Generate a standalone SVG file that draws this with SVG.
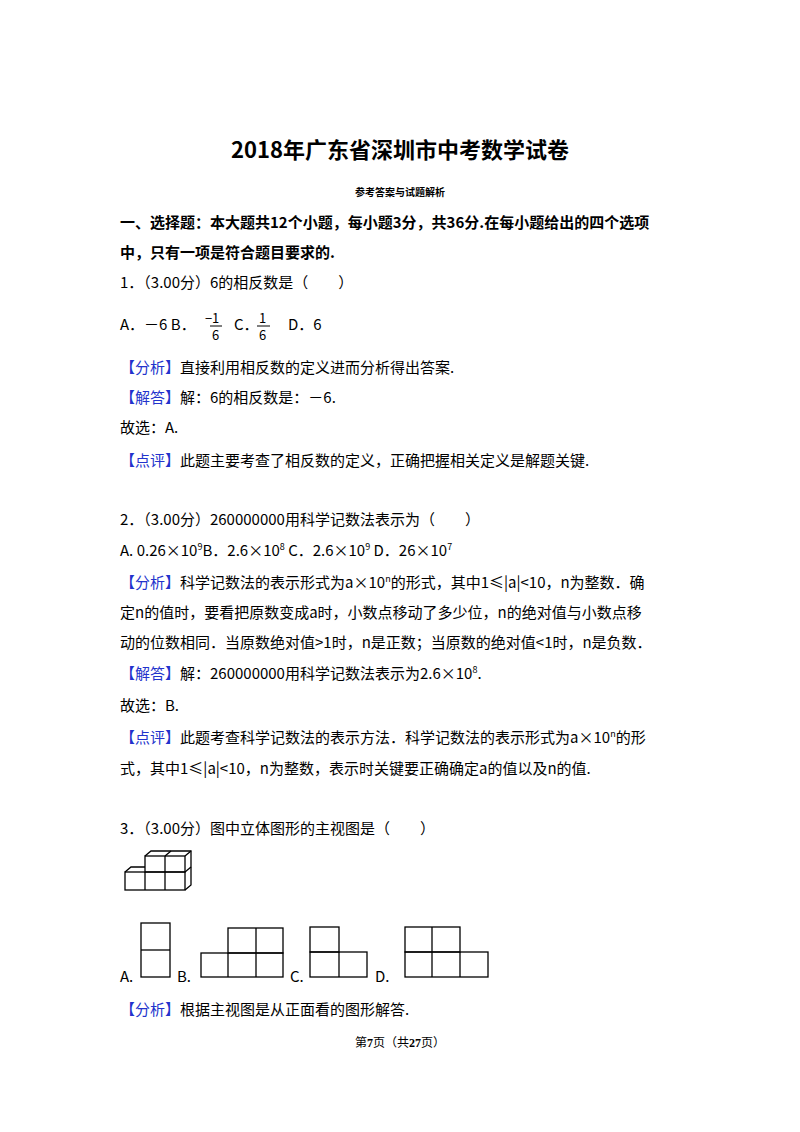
<svg xmlns="http://www.w3.org/2000/svg" width="800" height="1132" viewBox="0 0 800 1132">
<style>
text{font-family:"Noto Sans CJK SC","Liberation Sans",sans-serif;font-size:15px;fill:#000}
.b{font-weight:bold}
.k{fill:#2233cc}
.f{fill:none;stroke:#000;stroke-width:1.3}
sup{font-size:9px}
</style>
<rect width="800" height="1132" fill="#fff"/>
<text x="400" y="158" text-anchor="middle" class="b" style="font-size:22px">2018年广东省深圳市中考数学试卷</text>
<text x="400" y="196" text-anchor="middle" class="b" style="font-size:10px">参考答案与试题解析</text>
<text x="120" y="228" class="b">一、选择题：本大题共12个小题，每小题3分，共36分.在每小题给出的四个选项</text>
<text x="120" y="258" class="b">中，只有一项是符合题目要求的.</text>
<text x="120" y="288">1．（3.00分）6的相反数是（　　）</text>
<text x="120" y="330">A．－6 B．</text>
<text x="205" y="323" style="font-size:13px">−</text>
<text x="212" y="323" style="font-size:13px">1</text>
<line x1="210" y1="326" x2="222" y2="326" stroke="#000"/>
<text x="212" y="340" style="font-size:13px">6</text>
<text x="234" y="330">C．</text>
<text x="259" y="323" style="font-size:13px">1</text>
<line x1="257" y1="326" x2="270" y2="326" stroke="#000"/>
<text x="259" y="340" style="font-size:13px">6</text>
<text x="288" y="330">D．6</text>
<text x="120" y="373"><tspan class="k">【分析】</tspan>直接利用相反数的定义进而分析得出答案.</text>
<text x="120" y="403"><tspan class="k">【解答】</tspan>解：6的相反数是：－6.</text>
<text x="120" y="433">故选：A.</text>
<text x="120" y="466"><tspan class="k">【点评】</tspan>此题主要考查了相反数的定义，正确把握相关定义是解题关键.</text>
<text x="120" y="525">2．（3.00分）260000000用科学记数法表示为（　　）</text>
<text x="120" y="556">A. 0.26×10<tspan dy="-6" style="font-size:9px">9</tspan><tspan dy="6">B．2.6×10</tspan><tspan dy="-6" style="font-size:9px">8</tspan><tspan dy="6"> C．2.6×10</tspan><tspan dy="-6" style="font-size:9px">9</tspan><tspan dy="6"> D．26×10</tspan><tspan dy="-6" style="font-size:9px">7</tspan></text>
<text x="120" y="588"><tspan class="k">【分析】</tspan>科学记数法的表示形式为a×10<tspan dy="-6" style="font-size:9px">n</tspan><tspan dy="6">的形式，其中1≤|a|&lt;10，n为整数．确</tspan></text>
<text x="120" y="618">定n的值时，要看把原数变成a时，小数点移动了多少位，n的绝对值与小数点移</text>
<text x="120" y="648">动的位数相同．当原数绝对值&gt;1时，n是正数；当原数的绝对值&lt;1时，n是负数．</text>
<text x="120" y="679"><tspan class="k">【解答】</tspan>解：260000000用科学记数法表示为2.6×10<tspan dy="-6" style="font-size:9px">8</tspan><tspan dy="6">.</tspan></text>
<text x="120" y="711">故选：B.</text>
<text x="120" y="743"><tspan class="k">【点评】</tspan>此题考查科学记数法的表示方法．科学记数法的表示形式为a×10<tspan dy="-6" style="font-size:9px">n</tspan><tspan dy="6">的形</tspan></text>
<text x="120" y="774">式，其中1≤|a|&lt;10，n为整数，表示时关键要正确确定a的值以及n的值.</text>
<text x="120" y="834">3．（3.00分）图中立体图形的主视图是（　　）</text>
<g id="solid" class="f">
<rect x="125" y="872" width="60" height="18"/>
<line x1="145" y1="872" x2="145" y2="890"/><line x1="165" y1="872" x2="165" y2="890"/>
<rect x="145" y="856" width="40" height="16"/>
<line x1="165" y1="856" x2="165" y2="872"/>
<polyline points="125,872 131,867 145,867"/>
<polyline points="145,856 151,851 191,851 191,885 185,890"/>
<line x1="165" y1="856" x2="171" y2="851"/><line x1="185" y1="856" x2="191" y2="851"/>
<line x1="185" y1="872" x2="191" y2="867"/>
</g>
<text x="120" y="982">A.</text>
<g id="optA" class="f"><rect x="141" y="923" width="29" height="54"/><line x1="141" y1="950" x2="170" y2="950"/></g>
<text x="177" y="982">B.</text>
<g id="optB" class="f"><rect x="201" y="953" width="82" height="24"/><rect x="228" y="928" width="55" height="25"/><line x1="256" y1="928" x2="256" y2="977"/><line x1="228" y1="953" x2="228" y2="977"/></g>
<text x="290" y="982">C.</text>
<g id="optC" class="f"><rect x="310" y="952" width="57" height="25"/><rect x="310" y="927" width="29" height="25"/><line x1="339" y1="952" x2="339" y2="977"/></g>
<text x="375" y="982">D.</text>
<g id="optD" class="f"><rect x="405" y="952" width="83" height="25"/><rect x="405" y="927" width="55" height="25"/><line x1="432" y1="927" x2="432" y2="977"/><line x1="460" y1="952" x2="460" y2="977"/></g>
<text x="120" y="1015"><tspan class="k">【分析】</tspan>根据主视图是从正面看的图形解答.</text>
<text x="400" y="1047" text-anchor="middle" style="font-size:12px;font-family:'Liberation Serif','Noto Sans CJK SC',serif">第<tspan class="b">7</tspan>页（共<tspan class="b">27</tspan>页）</text>
</svg>
